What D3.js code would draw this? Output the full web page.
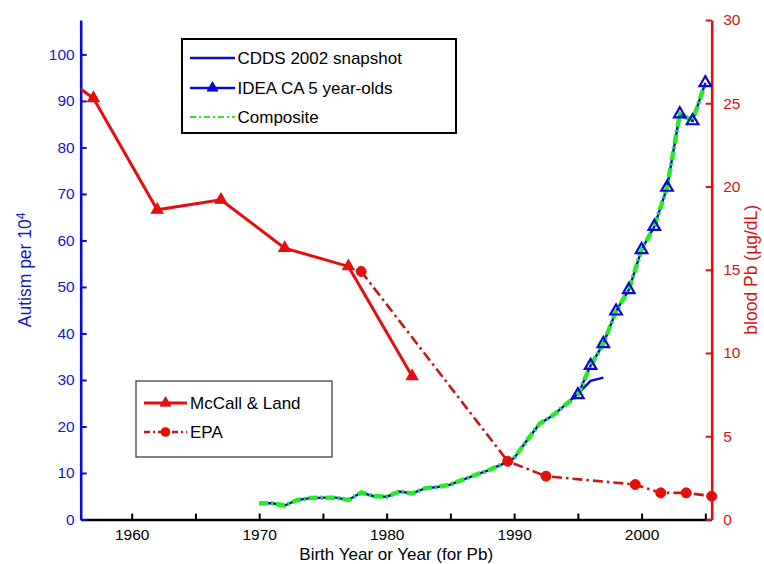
<!DOCTYPE html>
<html><head><meta charset="utf-8">
<script src="https://cdn.jsdelivr.net/npm/d3@7"></script>
<style>
body{margin:0;background:#fff}
svg{display:block}
text{font-family:"Liberation Sans",Arial,Helvetica,sans-serif}
</style>
</head><body>
<svg id="c" width="764" height="564"></svg>
<script>
// ---- data ----
const cddsYears  = [1970,1971,1972,1973,1974,1975,1976,1977,1978,1979,1980,1981,1982,1983,1984,1985,1986,1987,1988,1989,1990,1991,1992,1993,1994,1995,1996,1997];
const cddsValues = [3.5,3.5,3.0,4.2,4.6,4.7,4.7,4.2,5.8,5.0,4.9,6.0,5.6,6.7,7.0,7.5,8.6,9.6,10.6,11.8,13.2,17.0,20.6,22.3,24.6,27.0,29.8,30.5];
const ideaYears  = [1995,1996,1997,1998,1999,2000,2001,2002,2003,2004,2005];
const ideaValues = [26.8,33.1,37.8,44.8,49.4,58.0,63.0,71.4,87.2,85.7,93.9];
const compositeSwitchYear = 1995;
const mccallYears  = [1955,1957,1962,1967,1972,1977,1982];
const mccallValues = [26.4,25.3,18.6,19.2,16.3,15.2,8.6];
const epaYears  = [1978,1989.5,1992.5,1999.5,2001.5,2003.5,2005.5];
const epaValues = [14.9,3.5,2.6,2.1,1.6,1.6,1.4];
const xTickValues = [1960,1965,1970,1975,1980,1985,1990,1995,2000,2005];
const xTickLabelStep = 10;
const leftTickValues  = [0,10,20,30,40,50,60,70,80,90,100];
const rightTickValues = [0,5,10,15,20,25,30];
const legendTopLabels = ["CDDS 2002 snapshot","IDEA CA 5 year-olds","Composite"];
const legendBottomLabels = ["McCall & Land","EPA"];

// composite built from the two autism series
const composite = d3.zip(cddsYears, cddsValues).filter(d => d[0] < compositeSwitchYear)
  .concat(d3.zip(ideaYears, ideaValues));

// ---- layout ----
const L = 80.7, R = 711.7, T = 20, B = 519.5;
const BLUE = "#0a0ad0", BLUE_TXT = "#1818c0", RED = "#e60d0d", RED_TXT = "#d41414", DRED = "#c41818", GREEN = "#22ee22";

const svg = d3.select("#c");
const x  = d3.scaleLinear().domain([1956, 2005.5]).range([L, R]);
const yL = d3.scaleLinear().domain([0, 107.4]).range([B, T]);
const yR = d3.scaleLinear().domain([0, 30]).range([B, T]);

svg.append("clipPath").attr("id","clip").append("rect")
  .attr("x", L).attr("y", T - 5).attr("width", R - L).attr("height", B - T + 5);

// ---- axes ----
function styleAxis(g, color, txtColor, fs) {
  g.attr("font-family", null).attr("font-size", null);
  g.select(".domain").attr("stroke", color).attr("stroke-width", 2.6);
  g.selectAll(".tick line").attr("stroke", color).attr("stroke-width", 2);
  g.selectAll(".tick text").attr("fill", txtColor).style("font-size", fs + "px");
}
const gx = svg.append("g").attr("transform", `translate(0,${B})`)
  .call(d3.axisBottom(x).tickValues(xTickValues).tickSizeInner(-6).tickSizeOuter(0).tickPadding(9.5)
    .tickFormat(d => d % xTickLabelStep === 0 ? d : ""));
styleAxis(gx, "#000", "#000", 15.5);

const gl = svg.append("g").attr("transform", `translate(${L},0)`)
  .call(d3.axisLeft(yL).tickValues(leftTickValues).tickSizeInner(-6).tickSizeOuter(0).tickPadding(6));
styleAxis(gl, BLUE, BLUE_TXT, 15.5);

const gr = svg.append("g").attr("transform", `translate(${R},0)`)
  .call(d3.axisRight(yR).tickValues(rightTickValues).tickSizeInner(-6).tickSizeOuter(0).tickPadding(11.5));
styleAxis(gr, RED, RED_TXT, 15.5);

// axis titles
svg.append("text").attr("x", (L + R) / 2).attr("y", 559.5).attr("text-anchor","middle")
  .style("font-size","17px").attr("fill","#000").text("Birth Year or Year (for Pb)");
const yt = svg.append("text").attr("transform", `translate(31,${(T + B) / 2}) rotate(-90)`)
  .attr("text-anchor","middle").style("font-size","17.5px").attr("fill", BLUE_TXT);
yt.append("tspan").text("Autism per 10");
yt.append("tspan").attr("dy","-0.45em").style("font-size","12.5px").text("4");
svg.append("text").attr("transform", `translate(757,${(T + B) / 2}) rotate(-90)`)
  .attr("text-anchor","middle").style("font-size","17.5px").attr("fill", RED_TXT).text("blood Pb (\u00b5g/dL)");

// ---- series ----
const plot = svg.append("g").attr("clip-path","url(#clip)");
const lineL = d3.line().x(d => x(d[0])).y(d => yL(d[1]));
const lineR = d3.line().x(d => x(d[0])).y(d => yR(d[1]));
const inX = d => d[0] >= x.domain()[0] && d[0] <= x.domain()[1];

const cdds = d3.zip(cddsYears, cddsValues);
const idea = d3.zip(ideaYears, ideaValues);
const mccall = d3.zip(mccallYears, mccallValues);
const epa = d3.zip(epaYears, epaValues);

plot.append("path").datum(cdds).attr("d", lineL).attr("fill","none").attr("stroke", BLUE).attr("stroke-width", 2.4);
plot.append("path").datum(idea).attr("d", lineL).attr("fill","none").attr("stroke", BLUE).attr("stroke-width", 2.4);
plot.append("path").datum(composite).attr("d", lineL).attr("fill","none").attr("stroke", GREEN)
  .attr("stroke-width", 4.5).attr("stroke-dasharray","9,3,2,3");
svg.append("g").selectAll("path").data(idea.filter(inX)).join("path")
  .attr("d", d3.symbol(d3.symbolTriangle, 58)())
  .attr("transform", d => `translate(${x(d[0])},${yL(d[1])})`)
  .attr("fill","none").attr("stroke", BLUE).attr("stroke-width", 2.2);

plot.append("path").datum(mccall).attr("d", lineR).attr("fill","none").attr("stroke", RED).attr("stroke-width", 3);
svg.append("g").selectAll("path").data(mccall.filter(inX)).join("path")
  .attr("d", d3.symbol(d3.symbolTriangle, 58)())
  .attr("transform", d => `translate(${x(d[0])},${yR(d[1])})`)
  .attr("fill", RED).attr("stroke", RED).attr("stroke-width", 1.2);

plot.append("path").datum(epa).attr("d", lineR).attr("fill","none").attr("stroke", DRED)
  .attr("stroke-width", 2.6).attr("stroke-dasharray","10,4,2.5,4");
svg.append("g").selectAll("circle").data(epa.filter(inX)).join("circle")
  .attr("cx", d => x(d[0])).attr("cy", d => yR(d[1])).attr("r", 5)
  .attr("fill", RED).attr("stroke", RED).attr("stroke-width", 1);

// ---- legends ----
const lg1 = svg.append("g");
lg1.append("rect").attr("x",182).attr("y",39).attr("width",274).attr("height",94)
  .attr("fill","#fff").attr("stroke","#000").attr("stroke-width",2);
const rows1 = [58, 88, 117];
legendTopLabels.forEach((t, i) => {
  const y = rows1[i];
  const ln = lg1.append("line").attr("x1",190).attr("x2",235).attr("y1",y).attr("y2",y);
  if (i < 2) ln.attr("stroke", BLUE).attr("stroke-width", 2.4);
  else ln.attr("stroke", GREEN).attr("stroke-width", 2).attr("stroke-dasharray","6,3,2,3");
  if (i === 1) lg1.append("path").attr("d", d3.symbol(d3.symbolTriangle, 50)())
    .attr("transform", `translate(212.5,${y})`).attr("fill", BLUE).attr("stroke", BLUE);
  lg1.append("text").attr("x",237.5).attr("y",y).attr("dy","0.36em").style("font-size","17px").text(t);
});

const lg2 = svg.append("g");
lg2.append("rect").attr("x",136).attr("y",381).attr("width",196).attr("height",76)
  .attr("fill","#fff").attr("stroke","#333").attr("stroke-width",1.2);
const rows2 = [403, 432];
legendBottomLabels.forEach((t, i) => {
  const y = rows2[i];
  const ln = lg2.append("line").attr("x1",144).attr("x2",187).attr("y1",y).attr("y2",y);
  if (i === 0) {
    ln.attr("stroke", RED).attr("stroke-width", 3);
    lg2.append("path").attr("d", d3.symbol(d3.symbolTriangle, 50)())
      .attr("transform", `translate(165.5,${y})`).attr("fill", RED).attr("stroke", RED);
  } else {
    ln.attr("stroke", DRED).attr("stroke-width", 2.6).attr("stroke-dasharray","6,3,2,3");
    lg2.append("circle").attr("cx",165.5).attr("cy",y).attr("r",4.8).attr("fill",RED);
  }
  lg2.append("text").attr("x",190).attr("y",y).attr("dy","0.36em").style("font-size","17px").text(t);
});
</script>
</body></html>
